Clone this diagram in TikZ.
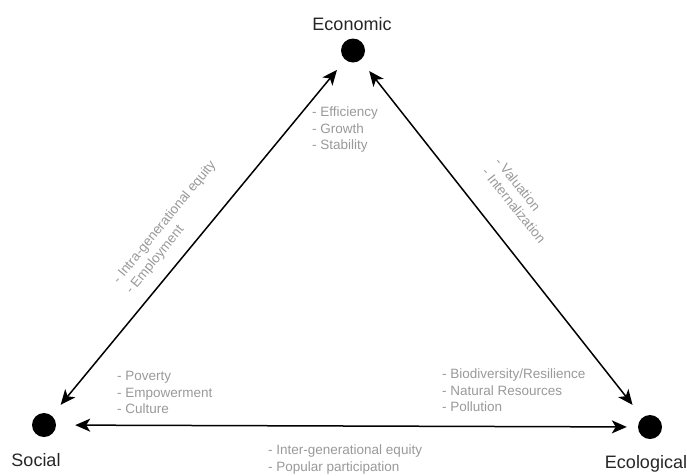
\documentclass[tikz,border=0pt]{standalone}
\usepackage{fontspec}
\setmainfont{Liberation Sans}
\usetikzlibrary{arrows.meta}

\begin{document}
\begin{tikzpicture}[x=1pt, y=-1pt,
    pillar/.style={circle, fill=black, inner sep=0pt, minimum size=24pt},
    pillarname/.style={font=\fontsize{18}{20}\selectfont, text=black!85},
    link/.style={line width=1.5pt, {Stealth[length=15pt, width=13pt, inset=4pt]}-{Stealth[length=15pt, width=13pt, inset=4pt]}},
    aspect/.style={font=\fontsize{13.5}{16.5}\selectfont, text=black!40, align=left, inner sep=0pt, anchor=north west}]
\useasboundingbox (0,0) rectangle (687,475);

% The three pillars
\node[pillar] (eco) at (353,50.5) {};
\node[pillar] (soc) at (44,425) {};
\node[pillar] (env) at (650,427) {};
\node[pillarname, anchor=base] (econame) at (352,30) {Economic};
\node[pillarname, anchor=base] (socname) at (36,466) {Social};
\node[pillarname, anchor=base] (envname) at (646,468) {Ecological};

% Links between the pillars
\draw[link, shorten <=13pt, shorten >=14pt] (eco) -- (soc);
\draw[link, shorten <=14pt, shorten >=16pt] (eco) -- (env);
\draw[link, shorten <=19pt, shorten >=11pt] (soc) -- (env);

% Aspects of each pillar
\node[aspect] (ecolist) at (312,107) {- Efficiency\\- Growth\\- Stability};
\node[aspect] (soclist) at (117,371) {- Poverty\\- Empowerment\\- Culture};
\node[aspect] (envlist) at (442,369) {- Biodiversity/Resilience\\- Natural Resources\\- Pollution};

% Aspects of each link
\node[aspect, rotate=50.8] (ecosoc) at (111,278) {- Intra-generational equity\\- Employment};
\node[aspect, rotate=-51.2] (ecoenv) at (502,156) {- Valuation\\- Internalization};
\node[aspect] (socenv) at (268,445) {- Inter-generational equity\\- Popular participation};
\end{tikzpicture}
\end{document}
